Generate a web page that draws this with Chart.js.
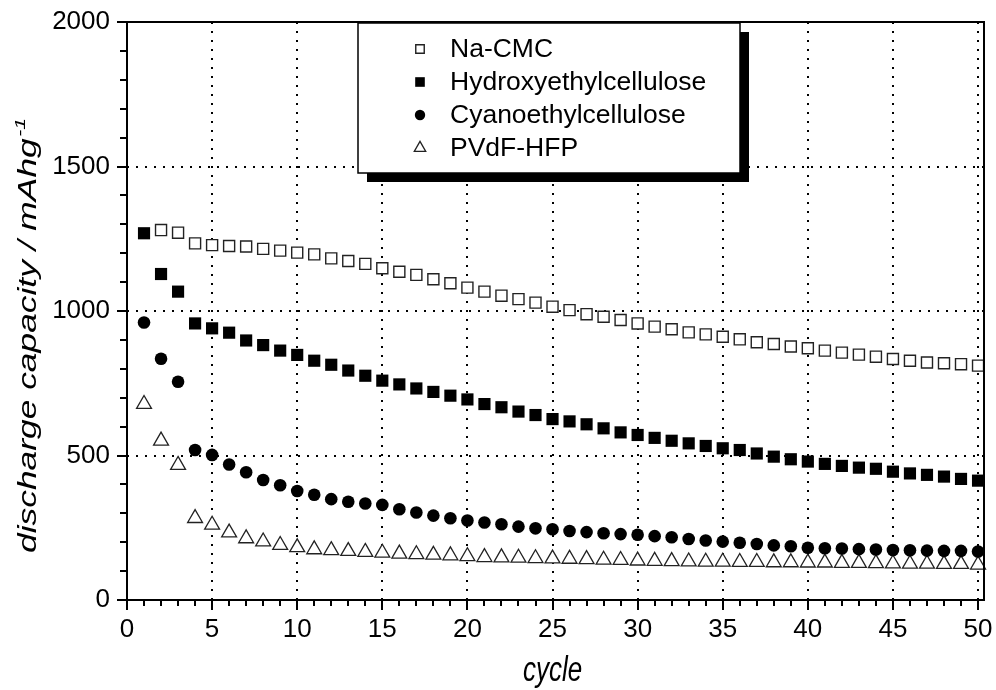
<!DOCTYPE html>
<html>
<head>
<meta charset="utf-8">
<script src="https://cdn.jsdelivr.net/npm/chart.js@4/dist/chart.umd.min.js"></script>
<style>
  html, body { margin: 0; padding: 0; background: #fff; }
</style>
</head>
<body>
<canvas id="myChart" width="996" height="690"></canvas>
<script>
let cycles = [];
for (let i = 1; i <= 50; i++) cycles.push(i);

let labels = ["Na-CMC", "Hydroxyethylcellulose", "Cyanoethylcellulose", "PVdF-HFP"];

// discharge capacity in mAh/g (cycle 1 .. 50)
let naCmc = [null, 1280, 1271, 1234, 1228, 1225, 1223, 1215, 1209, 1202,
  1196, 1182, 1173, 1163, 1148, 1136, 1125, 1110, 1096, 1081,
  1067, 1053, 1041, 1029, 1015, 1003, 989, 980, 969, 957,
  946, 937, 926, 919, 911, 902, 892, 886, 877, 871,
  863, 856, 849, 842, 834, 828, 822, 819, 816, 811];
let hec = [1269, 1128, 1067, 957, 940, 925, 898, 882, 863, 848,
  828, 814, 794, 776, 759, 746, 732, 720, 707, 694,
  678, 667, 652, 640, 626, 618, 608, 594, 580, 571,
  561, 551, 542, 533, 525, 519, 507, 496, 487, 479,
  471, 464, 458, 454, 444, 438, 433, 427, 419, 413];
let cec = [960, 835, 755, 519, 502, 469, 442, 415, 397, 377,
  364, 349, 340, 334, 329, 314, 303, 292, 283, 275,
  268, 262, 254, 248, 245, 239, 235, 231, 228, 226,
  221, 217, 211, 206, 202, 198, 194, 189, 186, 181,
  179, 178, 176, 175, 173, 172, 171, 170, 170, 168];
let pvdf = [678, 551, 467, 283, 260, 233, 213, 202, 190, 182,
  175, 172, 169, 166, 163, 160, 158, 156, 154, 151,
  148, 147, 146, 144, 143, 142, 141, 139, 138, 136,
  135, 134, 133, 132, 132, 131, 131, 130, 130, 129,
  129, 128, 128, 127, 126, 125, 125, 124, 124, 122];

let xTicks = [0, 5, 10, 15, 20, 25, 30, 35, 40, 45, 50];
let yTicks = [0, 500, 1000, 1500, 2000];

let fontFamily = "'Liberation Sans', Arial, sans-serif";
let black = "#000";

let toPoints = (values) => {
  return cycles.map((c, i) => ({ x: c, y: values[i] }));
};

let styles = [
  { pointStyle: "rect", radius: 7.8, legendRadius: 6, fill: "#fff", border: "#222", width: 1.4 },
  { pointStyle: "rect", radius: 8.6, legendRadius: 6.8, fill: black, border: black, width: 0 },
  { pointStyle: "circle", radius: 6.3, legendRadius: 5.2, fill: black, border: black, width: 0 },
  { pointStyle: "triangle", radius: 8.6, legendRadius: 6.6, fill: "#fff", border: "#222", width: 1.3 },
];

let series = [naCmc, hec, cec, pvdf];

let datasets = series.map((values, i) => {
  let s = styles[i];
  return {
    label: labels[i],
    data: toPoints(values),
    pointStyle: s.pointStyle,
    pointRadius: s.radius,
    pointBackgroundColor: s.fill,
    pointBorderColor: s.border,
    pointBorderWidth: s.width,
    showLine: false,
    clip: false,
  };
});

// frame, tick marks, axis titles and the boxed legend with its shadow
let framePlugin = {
  id: "frame",
  afterDatasetsDraw(chart) {
    let { ctx, chartArea: a, scales } = chart;
    let x = scales.x;
    let y = scales.y;
    ctx.save();
    ctx.strokeStyle = black;
    ctx.lineWidth = 2;
    ctx.strokeRect(a.left, a.top, a.right - a.left, a.bottom - a.top);

    ctx.beginPath();
    for (let v = 0; v <= 50; v++) {
      let px = Math.round(x.getPixelForValue(v));
      let len = v % 5 === 0 ? 10 : 6;
      ctx.moveTo(px, a.bottom);
      ctx.lineTo(px, a.bottom + len);
    }
    for (let v = 0; v <= 2000; v += 100) {
      let py = Math.round(y.getPixelForValue(v));
      let len = v % 500 === 0 ? 10 : 7;
      ctx.moveTo(a.left, py);
      ctx.lineTo(a.left - len, py);
    }
    ctx.stroke();

    // x title
    ctx.fillStyle = black;
    ctx.save();
    ctx.translate((a.left + a.right) / 2 - 3, 681);
    ctx.scale(1, 1.35);
    ctx.font = "italic 26px " + fontFamily;
    ctx.textAlign = "center";
    ctx.textBaseline = "alphabetic";
    ctx.fillText("cycle", 0, 0);
    ctx.restore();

    // y title with superscript
    ctx.save();
    let mainTxt = "discharge capacity / mAhg";
    let supTxt = "-1";
    ctx.font = "italic 25px " + fontFamily;
    let w1 = ctx.measureText(mainTxt).width;
    ctx.font = "italic 15px " + fontFamily;
    let w2 = ctx.measureText(supTxt).width;
    let stretch = 435 / (w1 + w2 + 1);
    ctx.translate(36, 553);
    ctx.rotate(-Math.PI / 2);
    ctx.scale(stretch, 1);
    ctx.textAlign = "left";
    ctx.textBaseline = "alphabetic";
    ctx.font = "italic 25px " + fontFamily;
    ctx.fillText(mainTxt, 0, 0);
    ctx.font = "italic 15px " + fontFamily;
    ctx.fillText(supTxt, w1 + 1, -11);
    ctx.restore();

    // legend box
    let bx = a.left + 231;
    let by = a.top + 1;
    let bw = 382;
    let bh = 150;
    ctx.fillStyle = black;
    ctx.fillRect(bx + 9, by + 9, bw, bh);
    ctx.fillStyle = "#fff";
    ctx.fillRect(bx, by, bw, bh);
    ctx.lineWidth = 1.5;
    ctx.strokeStyle = black;
    ctx.strokeRect(bx, by, bw, bh);

    ctx.font = "26.5px " + fontFamily;
    ctx.textAlign = "left";
    ctx.textBaseline = "middle";
    labels.forEach((lab, i) => {
      let s = styles[i];
      let rowY = by + 26 + i * 33;
      ctx.fillStyle = s.fill;
      ctx.strokeStyle = s.border;
      ctx.lineWidth = s.width;
      Chart.helpers.drawPoint(ctx, {
        pointStyle: s.pointStyle,
        radius: s.legendRadius,
        rotation: 0,
        borderWidth: s.width,
      }, bx + 62, rowY);
      ctx.fillStyle = black;
      ctx.fillText(lab, bx + 92, rowY + 1);
    });
    ctx.restore();
  },
};

let ctx = document.getElementById("myChart").getContext("2d");
let myChart = new Chart(ctx, {
  type: "scatter",
  data: { datasets: datasets },
  options: {
    responsive: false,
    animation: false,
    layout: { padding: { top: 22, right: 12, left: 0, bottom: 0 } },
    plugins: {
      legend: { display: false },
      tooltip: { enabled: false },
    },
    scales: {
      x: {
        type: "linear",
        min: 0,
        max: 50.35,
        afterFit: (s) => {
          s.height = 90;
          s.paddingLeft = 0;
          s.paddingRight = 0;
        },
        afterBuildTicks: (s) => { s.ticks = xTicks.map((v) => ({ value: v })); },
        ticks: {
          includeBounds: false,
          autoSkip: false,
          maxRotation: 0,
          color: black,
          font: { family: fontFamily, size: 26 },
          padding: 14,
          callback: (v) => String(v),
        },
        grid: {
          color: (c) => (c.tick && c.tick.value > 0 ? black : "transparent"),
          lineWidth: 2,
          drawTicks: false,
        },
        border: { display: false, dash: [2, 7] },
      },
      y: {
        type: "linear",
        min: 0,
        max: 2000,
        afterFit: (s) => {
          s.width = 127;
          s.paddingTop = 0;
          s.paddingBottom = 0;
        },
        afterBuildTicks: (s) => { s.ticks = yTicks.map((v) => ({ value: v })); },
        ticks: {
          autoSkip: false,
          color: black,
          font: { family: fontFamily, size: 26 },
          padding: 17,
          callback: (v) => String(v),
        },
        grid: {
          color: (c) => (c.tick && c.tick.value > 0 && c.tick.value < 2000 ? black : "transparent"),
          lineWidth: 2,
          drawTicks: false,
        },
        border: { display: false, dash: [2, 7] },
      },
    },
  },
  plugins: [framePlugin],
});
</script>
</body>
</html>
